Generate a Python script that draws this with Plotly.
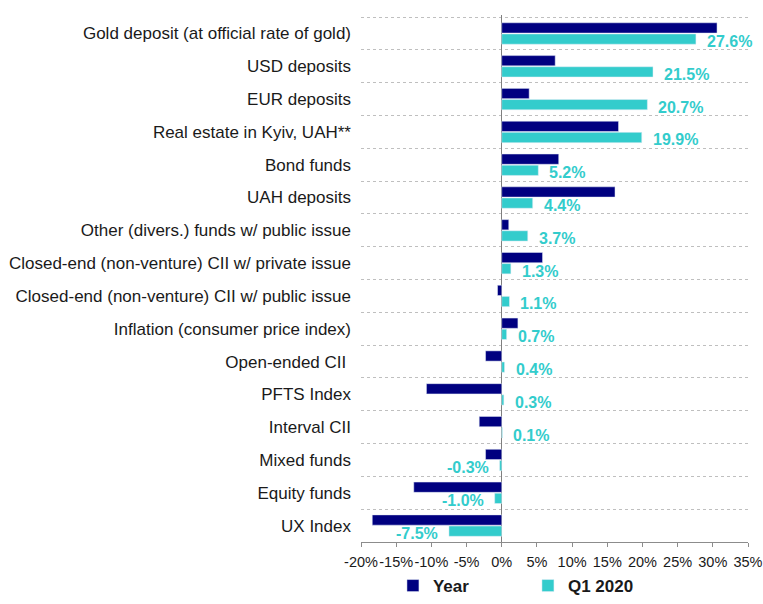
import plotly.graph_objects as go

categories = [
    "Gold deposit (at official rate of gold)",
    "USD deposits",
    "EUR deposits",
    "Real estate in Kyiv, UAH**",
    "Bond funds",
    "UAH deposits",
    "Other (divers.) funds w/ public issue",
    "Closed-end (non-venture) CII w/ private issue",
    "Closed-end (non-venture) CII w/ public issue",
    "Inflation (consumer price index)",
    "Open-ended CII ",
    "PFTS Index",
    "Interval CII",
    "Mixed funds",
    "Equity funds",
    "UX Index",
]
year_values = [30.6, 7.6, 3.9, 16.6, 8.1, 16.1, 1.0, 5.8, -0.6, 2.3, -2.3, -10.7, -3.2, -2.3, -12.5, -18.4]
q1_values = [27.6, 21.5, 20.7, 19.9, 5.2, 4.4, 3.7, 1.3, 1.1, 0.7, 0.4, 0.3, 0.1, -0.3, -1.0, -7.5]
x_tick_vals = [-20, -15, -10, -5, 0, 5, 10, 15, 20, 25, 30, 35]
x_tick_text = [f"{v}%" for v in x_tick_vals]

NAVY = "#000080"
CYAN = "#33CCCC"
FONT = "Liberation Sans, Arial, sans-serif"

fig = go.Figure()
fig.add_trace(go.Bar(
    y=categories, x=year_values, name="Year", orientation="h",
    marker=dict(color=NAVY), hoverinfo="x+y",
))
fig.add_trace(go.Bar(
    y=categories, x=q1_values, name="Q1 2020", orientation="h",
    marker=dict(color=CYAN), hoverinfo="x+y",
))

# data labels for Q1 2020 (slightly below the bar, like the original)
for cat, val in zip(categories, q1_values):
    fig.add_annotation(
        x=val, y=cat, text=f"{val:.1f}%", showarrow=False,
        xanchor="left" if val >= 0 else "right",
        xshift=9 if val >= 0 else -9, yshift=-8,
        font=dict(family=FONT, size=16, color=CYAN, weight="bold"),
    )

fig.update_layout(
    width=763, height=604,
    barmode="group", bargap=0.32, bargroupgap=0.08,
    plot_bgcolor="white", paper_bgcolor="white",
    margin=dict(l=361, r=15, t=15, b=62),
    font=dict(family=FONT, size=14, color="#1a1a1a"),
    showlegend=True,
    legend=dict(
        orientation="h", xref="container", yref="container",
        x=0.515, xanchor="left", y=0.0, yanchor="bottom",
        font=dict(family=FONT, size=17, color="#1a1a1a", weight="bold"),
        entrywidth=90, entrywidthmode="pixels",
    ),
    xaxis=dict(
        range=[-20, 35], tickvals=x_tick_vals, ticktext=x_tick_text, tickangle=0,
        showgrid=False, zeroline=True, zerolinecolor="#7f7f7f", zerolinewidth=1,
        showline=True, linecolor="#8c8c8c", ticks="outside", ticklen=4, tickcolor="#8c8c8c",
        ticklabelstandoff=3,
        tickfont=dict(size=14.5, color="#1a1a1a"), fixedrange=True, automargin=False,
    ),
    yaxis=dict(
        type="category", categoryorder="array", categoryarray=categories,
        autorange="reversed", tickson="boundaries",
        showgrid=True, gridcolor="#bfbfbf", griddash="dot", gridwidth=1,
        showline=False, ticks="", ticklabelstandoff=9,
        tickfont=dict(size=17, color="#1a1a1a"), automargin=False,
    ),
)

# drop the default 8px body margin so the 763x604 figure fills the window
fig.write_html(
    "out.html",
    config={"displayModeBar": False},
    post_script="document.body.style.margin='0';",
)
